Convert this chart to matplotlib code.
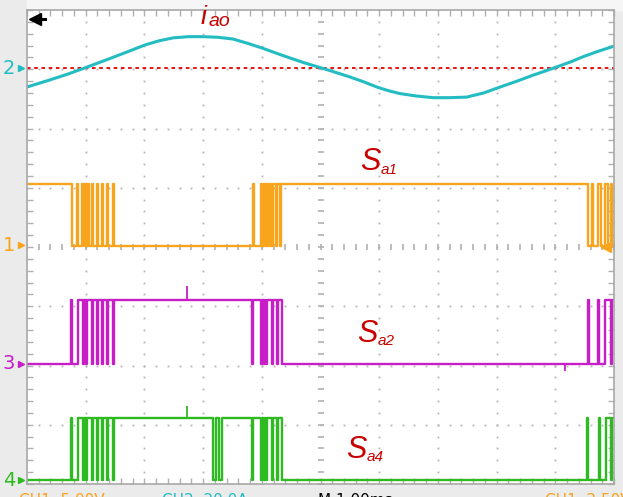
import numpy as np
import matplotlib
matplotlib.use("Agg")
from matplotlib import pyplot as plt

# scope screen units: 10 x 8 divisions
# ch2 current i_ao (x div, y div)
iao_x = [0.0, 0.39, 0.70, 1.005, 1.41, 1.70, 2.01, 2.25, 2.49, 2.75, 3.0, 3.25, 3.51, 3.75,
         4.0, 4.25, 4.48, 4.72, 4.99, 5.25, 5.50, 5.73, 5.96, 6.15, 6.35, 6.62, 6.92, 7.20,
         7.49, 7.78, 8.06, 8.35, 8.62, 8.80, 9.0, 9.25, 9.47, 9.72, 10.0]
iao_y = [6.70, 6.82, 6.92, 7.03, 7.18, 7.29, 7.41, 7.48, 7.53, 7.55, 7.55, 7.54, 7.51, 7.44,
         7.36, 7.27, 7.19, 7.11, 7.03, 6.95, 6.87, 6.79, 6.70, 6.64, 6.59, 6.55, 6.52, 6.52,
         6.53, 6.60, 6.70, 6.80, 6.90, 6.96, 7.03, 7.12, 7.21, 7.30, 7.39]
iao_zero = 7.02

# switching signals: toggle times in div
sa1_edges = [0.767, 0.85, 0.877, 0.945, 0.971, 0.988, 1.014, 1.031, 1.048, 1.099, 1.116,
             1.193, 1.210, 1.278, 1.295, 1.363, 1.380, 1.457, 1.474,
             3.842, 3.867, 3.978, 4.003, 4.020, 4.046, 4.072, 4.089, 4.131, 4.165,
             4.191, 4.242, 4.267, 4.302, 4.327,
             9.557, 9.617, 9.634, 9.727, 9.787, 9.847, 9.898, 9.949, 9.974]
sa2_edges = [0.750, 0.767, 0.869, 0.954, 0.971, 0.997, 1.014, 1.099, 1.116, 1.193, 1.210,
             1.278, 1.295, 1.363, 1.380, 1.457, 1.474,
             3.833, 3.850, 3.986, 4.003, 4.037, 4.055, 4.080, 4.097, 4.174, 4.191,
             4.259, 4.276, 4.344,
             9.557, 9.574, 9.719, 9.736, 9.847, 9.957, 9.974]
sa4_edges = [0.750, 0.767, 0.869, 0.954, 0.971, 0.997, 1.014, 1.099, 1.116, 1.193, 1.210,
             1.278, 1.295, 1.363, 1.380, 1.457, 1.474,
             3.177, 3.228, 3.279, 3.330,
             3.833, 3.850, 3.986, 4.003, 4.037, 4.055, 4.080, 4.097, 4.174, 4.191,
             4.259, 4.276, 4.344,
             9.540, 9.557, 9.736, 9.753, 9.864, 9.957, 9.974]

# low / high level of each channel (div)
sa1_levels = (4.01, 5.06)
sa2_levels = (2.03, 3.11)
sa4_levels = (0.07, 1.12)

# glitches on the traces: x, tip
sa2_spikes_x = [2.726, 9.165]
sa2_spikes_tip = [3.34, 1.90]
sa4_spikes_x = [2.726]
sa4_spikes_tip = [1.32]

labels = ['i', 'ao', 'S', 'a1', 'S', 'a2', 'S', 'a4']
ch_names = ['2', '1', '3', '4']

c_i = '#22bcc2'
c_1 = '#f8a41c'
c_3 = '#c81ec8'
c_4 = '#2ebb22'
c_red = '#c80000'


def square(edges, levels, start_high):
    xs = [0.0] + list(edges) + [10.0]
    state = start_high
    ys = []
    for _ in xs[:-1]:
        ys.append(levels[1] if state else levels[0])
        state = not state
    ys.append(ys[-1])
    return xs, ys


fig = plt.figure(figsize=(6.23, 4.97), dpi=100, facecolor='#ebebeb')
# light strip above the screen
fig.patches.append(plt.Rectangle((27 / 623, 487 / 497), 596 / 623, 10 / 497,
                                 transform=fig.transFigure, color='#f6f6f6', zorder=-5))
ax = fig.add_axes([27 / 623, 13 / 497, 587 / 623, 474 / 497])
ax.set_facecolor('white')
ax.set_xlim(0, 10)
ax.set_ylim(0, 8)

# grid made of dots
minor = np.arange(0, 10.01, 0.2)
minor_y = np.arange(0, 8.01, 0.2)
for gx in [1, 2, 3, 4, 6, 7, 8, 9]:
    ax.plot(np.full_like(minor_y, gx), minor_y, ls='', marker='s', ms=1.3, color='#b5b5b5', mew=0)
for gy in [1, 2, 3, 5, 6, 7]:
    ax.plot(minor, np.full_like(minor, gy), ls='', marker='s', ms=1.3, color='#b5b5b5', mew=0)
ax.plot(np.full_like(minor_y, 5), minor_y, ls='', marker='_', ms=5, color='#b0b0b0', mew=1.2)
ax.plot(minor, np.full_like(minor, 4), ls='', marker='|', ms=5, color='#b0b0b0', mew=1.2)

ax.set_xticks(np.arange(0, 11, 1))
ax.set_yticks(np.arange(0, 9, 1))
ax.set_xticks(minor, minor=True)
ax.set_yticks(minor_y, minor=True)
ax.tick_params(which='both', direction='in', length=4, width=1, color='#b0b0b0',
               top=True, right=True, labelbottom=False, labelleft=False)
for s in ax.spines.values():
    s.set_color('#a8a8a8')
    s.set_linewidth(1.2)

# traces
ax.axhline(iao_zero, color='#e60000', ls=(0, (2, 2)), lw=1.3)
ax.plot(iao_x, iao_y, color=c_i, lw=2.2)

for edges, lv, start, col in [(sa1_edges, sa1_levels, True, c_1),
                              (sa2_edges, sa2_levels, False, c_3),
                              (sa4_edges, sa4_levels, False, c_4)]:
    xs, ys = square(edges, lv, start)
    ax.plot(xs, ys, drawstyle='steps-post', color=col, lw=1.7)

ax.vlines(sa2_spikes_x[:1], sa2_levels[1], sa2_spikes_tip[:1], color=c_3, lw=1.3)
ax.vlines(sa2_spikes_x[1:], sa2_spikes_tip[1:], sa2_levels[0], color=c_3, lw=1.3)
ax.vlines(sa4_spikes_x, sa4_levels[1], sa4_spikes_tip, color=c_4, lw=1.3)

# markers: trigger position and level
ax.plot([0.15, 0.30], [7.84, 7.84], color='black', lw=2.2, clip_on=False)
ax.plot([0.13], [7.84], marker='<', ms=8, color='black', clip_on=False)
ax.plot([9.86], [4.0], marker='<', ms=7, color=c_1, clip_on=False)

# channel markers on the left
for name, yv, col in zip(ch_names, [7.02, 4.03, 2.03, 0.06], [c_i, c_1, c_3, c_4]):
    ax.text(-0.2, yv, name, color=col, fontsize=14, ha='right', va='center', clip_on=False)
    ax.plot([-0.1], [yv], marker='>', ms=5, color=col, clip_on=False)

# red labels
lab_kw = dict(color=c_red, style='italic', family='Liberation Sans', va='baseline', zorder=10)
ax.text(2.95, 7.76, labels[0], fontsize=19, **lab_kw)
ax.text(3.09, 7.73, labels[1], fontsize=14, **lab_kw)
ax.text(5.67, 5.30, labels[2], fontsize=22, **lab_kw)
ax.text(6.02, 5.24, labels[3], fontsize=11, **lab_kw)
ax.text(5.62, 2.40, labels[4], fontsize=22, **lab_kw)
ax.text(5.97, 2.34, labels[5], fontsize=11, **lab_kw)
ax.text(5.43, 0.44, labels[6], fontsize=22, **lab_kw)
ax.text(5.78, 0.38, labels[7], fontsize=11, **lab_kw)

# status line, mostly cut off at the bottom of the screenshot
fig.text(0.03, 0.009, 'CH1  5.00V', color=c_1, fontsize=11, va='top')
fig.text(0.26, 0.009, 'CH2  20.0A', color=c_i, fontsize=11, va='top')
fig.text(0.51, 0.009, 'M 1.00ms', color='black', fontsize=11, va='top')
fig.text(0.875, 0.009, 'CH1  2.50V', color=c_1, fontsize=11, va='top')

fig.savefig('out.png', dpi=100, facecolor=fig.get_facecolor())
